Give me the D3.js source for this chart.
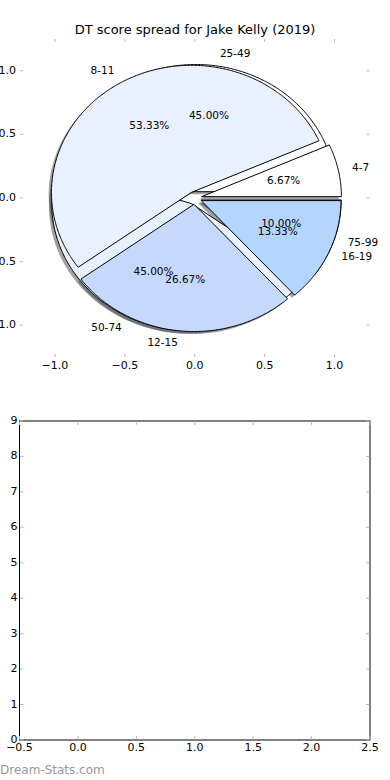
<!DOCTYPE html>
<html>
<head>
<meta charset="utf-8">
<script src="https://d3js.org/d3.v7.min.js"></script>
<style>
  body { margin: 0; background: #fff; }
  text { font-family: "DejaVu Sans", sans-serif; }
</style>
</head>
<body>
<div id="chart"></div>
<script>

    // data
    var title = "DT score spread for Jake Kelly (2019)";
    var labelsA = ["4-7", "8-11", "12-15", "16-19"];
    var countsA = [1, 8, 4, 2];
    var labelsB = ["25-49", "50-74", "75-99"];
    var countsB = [9, 9, 2];
    var pieColors = ["#ffffff", "#eaf1fe", "#c6d9fd", "#b4d5fe"];
    var pieTicks = [-1.0, -0.5, 0.0, 0.5, 1.0];
    var barXTicks = [-0.5, 0.0, 0.5, 1.0, 1.5, 2.0, 2.5];
    var barYTicks = [0, 1, 2, 3, 4, 5, 6, 7, 8, 9];

    var W = 390, H = 780;
    var explode = 0.05;
    var tickGray = "#b8b8b8";

    var svg = d3.select("#chart").append("svg")
        .attr("width", W)
        .attr("height", H);

    svg.append("defs").append("filter")
        .attr("id", "blur")
        .append("feGaussianBlur")
        .attr("stdDeviation", 0.7);

    // title
    svg.append("text")
        .attr("x", 195)
        .attr("y", 34)
        .attr("text-anchor", "middle")
        .style("font-size", "13px")
        .text(title);

    // ---------- top axes (pie) ----------
    var x = d3.scaleLinear().domain([-1.25, 1.25]).range([20, 369.5]);
    var y = d3.scaleLinear().domain([-1.25, 1.25]).range([357, 39]);

    function fmt(v) { return d3.format(".1f")(v).replace("-", "\u2212"); }

    var gTop = svg.append("g");

    // tick marks (frame is off, ticks stay)
    pieTicks.forEach(function (t) {
        gTop.append("line").attr("x1", x(t)).attr("x2", x(t)).attr("y1", y(1.25)).attr("y2", y(1.25) + 3)
            .attr("stroke", tickGray);
        gTop.append("line").attr("x1", x(t)).attr("x2", x(t)).attr("y1", y(-1.25)).attr("y2", y(-1.25) - 3)
            .attr("stroke", tickGray);
        gTop.append("line").attr("x1", x(-1.25)).attr("x2", x(-1.25) + 3).attr("y1", y(t)).attr("y2", y(t))
            .attr("stroke", tickGray);
        gTop.append("line").attr("x1", x(1.25)).attr("x2", x(1.25) - 3).attr("y1", y(t)).attr("y2", y(t))
            .attr("stroke", tickGray);
        gTop.append("text").attr("x", x(t)).attr("y", y(-1.25) + 9)
            .attr("text-anchor", "middle").attr("dominant-baseline", "middle")
            .style("font-size", "11px").text(fmt(t));
        gTop.append("text").attr("x", x(-1.25) - 4).attr("y", y(t))
            .attr("text-anchor", "end").attr("dominant-baseline", "middle")
            .style("font-size", "11px").text(fmt(t));
    });

    var pie = d3.pie().sort(null).startAngle(0).endAngle(2 * Math.PI);

    function wedge(d, dx, dy) {
        var mid = (d.startAngle + d.endAngle) / 2;
        var cx = explode * Math.cos(mid) + dx, cy = explode * Math.sin(mid) + dy;
        var pts = [[cx, cy]];
        var n = Math.max(4, Math.ceil((d.endAngle - d.startAngle) / 0.01));
        for (var i = 0; i <= n; i++) {
            var a = d.startAngle + (d.endAngle - d.startAngle) * i / n;
            pts.push([cx + Math.cos(a), cy + Math.sin(a)]);
        }
        return d3.line().x(function (p) { return x(p[0]); }).y(function (p) { return y(p[1]); })(pts) + "Z";
    }

    var arcsA = pie(countsA), arcsB = pie(countsB);
    var totalA = d3.sum(countsA), totalB = d3.sum(countsB);

    function shade(i) {
        var c = d3.rgb(pieColors[i % pieColors.length]);
        return d3.rgb(c.r * 0.3, c.g * 0.3, c.b * 0.3);
    }

    // shadows of both pies sit below all wedges
    [arcsB, arcsA].forEach(function (arcs) {
        gTop.append("g").selectAll("path").data(arcs).enter().append("path")
            .attr("d", function (d) { return wedge(d, -0.02, -0.02); })
            .attr("fill", function (d, i) { return shade(i); })
            .attr("fill-opacity", 0.5)
            .attr("filter", "url(#blur)");
    });

    [arcsB, arcsA].forEach(function (arcs) {
        gTop.append("g").selectAll("path").data(arcs).enter().append("path")
            .attr("d", function (d) { return wedge(d, 0, 0); })
            .attr("fill", function (d, i) { return pieColors[i % pieColors.length]; })
            .attr("stroke", "#000")
            .attr("stroke-width", 1)
            .attr("stroke-linejoin", "miter");
    });

    function pieTexts(arcs, labels, total) {
        arcs.forEach(function (d, i) {
            var mid = (d.startAngle + d.endAngle) / 2;
            var cx = explode * Math.cos(mid), cy = explode * Math.sin(mid);
            var lx = cx + 1.1 * Math.cos(mid), ly = cy + 1.1 * Math.sin(mid);
            gTop.append("text")
                .attr("x", x(lx)).attr("y", y(ly))
                .attr("text-anchor", lx > 0 ? "start" : "end")
                .attr("dominant-baseline", "middle")
                .style("font-size", "10.5px")
                .text(labels[i]);
            var px = cx + 0.6 * Math.cos(mid), py = cy + 0.6 * Math.sin(mid);
            gTop.append("text")
                .attr("x", x(px)).attr("y", y(py))
                .attr("text-anchor", "middle")
                .attr("dominant-baseline", "middle")
                .style("font-size", "10.5px")
                .text(d3.format(".2f")(d.data / total * 100) + "%");
        });
    }
    pieTexts(arcsB, labelsB, totalB);
    pieTexts(arcsA, labelsA, totalA);

    // ---------- bottom axes (empty) ----------
    var bx = d3.scaleLinear().domain([-0.5, 2.5]).range([19.5, 370]);
    var by = d3.scaleLinear().domain([0, 9]).range([740, 421]);

    var bot = svg.append("g");
    bot.append("rect")
        .attr("x", bx(-0.5)).attr("y", by(9))
        .attr("width", bx(2.5) - bx(-0.5)).attr("height", by(0) - by(9))
        .attr("fill", "none").attr("stroke", "#000").attr("stroke-width", 1);

    barXTicks.forEach(function (t) {
        bot.append("line").attr("x1", bx(t)).attr("x2", bx(t)).attr("y1", by(0) - 0.5).attr("y2", by(0) - 4)
            .attr("stroke", tickGray);
        bot.append("line").attr("x1", bx(t)).attr("x2", bx(t)).attr("y1", by(9) + 0.5).attr("y2", by(9) + 4)
            .attr("stroke", tickGray);
        bot.append("text").attr("x", bx(t)).attr("y", by(0) + 8)
            .attr("text-anchor", "middle").attr("dominant-baseline", "middle")
            .style("font-size", "11px").text(fmt(t));
    });
    barYTicks.forEach(function (t) {
        bot.append("line").attr("x1", bx(-0.5) + 0.5).attr("x2", bx(-0.5) + 4).attr("y1", by(t)).attr("y2", by(t))
            .attr("stroke", tickGray);
        bot.append("line").attr("x1", bx(2.5) - 0.5).attr("x2", bx(2.5) - 4).attr("y1", by(t)).attr("y2", by(t))
            .attr("stroke", tickGray);
        bot.append("text").attr("x", bx(-0.5) - 2).attr("y", by(t))
            .attr("text-anchor", "end").attr("dominant-baseline", "middle")
            .style("font-size", "11px").text(t);
    });

    // watermark
    svg.append("text")
        .attr("x", 0)
        .attr("y", 774)
        .attr("fill", "#999999")
        .style("font-size", "12px")
        .text("Dream-Stats.com");

</script>
</body>
</html>
